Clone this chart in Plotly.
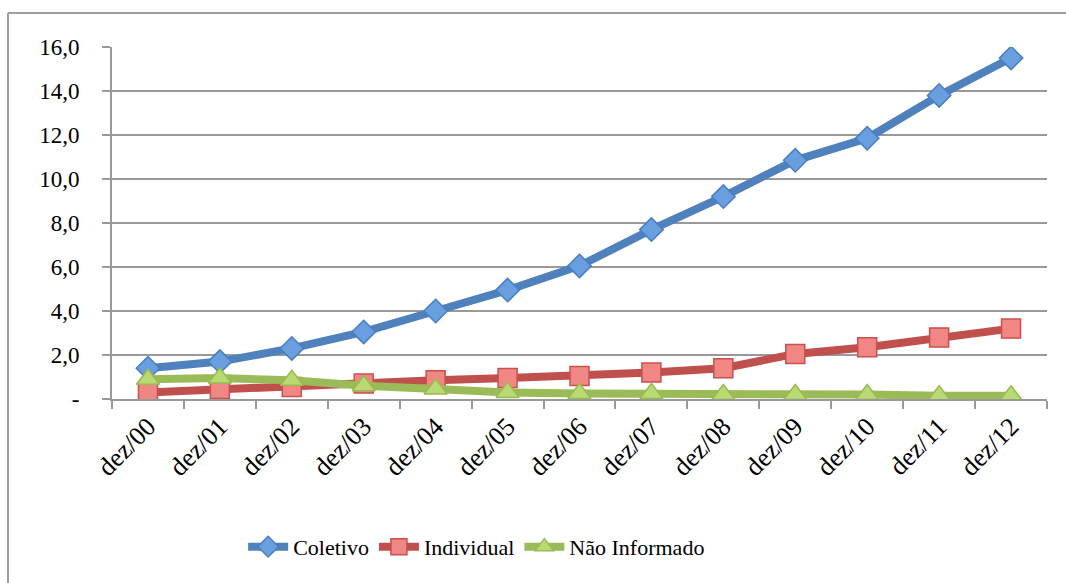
import plotly.graph_objects as go

categories = ["dez/00", "dez/01", "dez/02", "dez/03", "dez/04", "dez/05", "dez/06",
              "dez/07", "dez/08", "dez/09", "dez/10", "dez/11", "dez/12"]
coletivo = [1.4, 1.7, 2.3, 3.05, 4.0, 4.95, 6.05, 7.7, 9.2, 10.85, 11.85, 13.8, 15.5]
individual = [0.3, 0.45, 0.55, 0.7, 0.85, 0.95, 1.05, 1.2, 1.4, 2.05, 2.35, 2.8, 3.2]
nao_informado = [0.9, 0.95, 0.85, 0.6, 0.45, 0.3, 0.25, 0.25, 0.2, 0.2, 0.2, 0.15, 0.15]
y_tickvals = [0, 2, 4, 6, 8, 10, 12, 14, 16]
y_ticktext = ["-", "2,0", "4,0", "6,0", "8,0", "10,0", "12,0", "14,0", "16,0"]

FONT = "Liberation Serif"

fig = go.Figure()
series = [
    ("Coletivo", coletivo, "#4F81BD", "#6A9FDF", "#4A7EC0", "diamond", 18),
    ("Individual", individual, "#C0504D", "#F08784", "#C9504C", "square", 19),
    ("Não Informado", nao_informado, "#9BBB59", "#B9DA72", "#98BA52", "triangle-up", 20),
]
for name, vals, lc, mfill, mline, sym, sz in series:
    fig.add_trace(go.Scatter(
        x=categories, y=vals, name=name, mode="lines+markers",
        line=dict(color=lc, width=8),
        marker=dict(symbol=sym, size=sz, color=mfill, line=dict(color=mline, width=1.5)),
    ))

fig.update_layout(
    width=1066, height=583,
    margin=dict(l=112, r=19, t=47, b=184),
    paper_bgcolor="white", plot_bgcolor="white",
    font=dict(family=FONT, size=22, color="black"),
    showlegend=True,
    legend=dict(orientation="h", x=0.39, xanchor="center", y=-0.42, yanchor="middle",
                font=dict(family=FONT, size=22), itemwidth=40,
                bgcolor="rgba(0,0,0,0)"),
    xaxis=dict(
        type="category", tickangle=-45, showgrid=False,
        showline=True, linecolor="#999999", linewidth=2,
        ticks="outside", ticklen=8, tickcolor="#999999", tickwidth=2,
        tickson="boundaries", range=[-0.5, 12.5],
        tickfont=dict(family=FONT, size=26),
    ),
    yaxis=dict(
        range=[0, 16], tickvals=y_tickvals, ticktext=y_ticktext,
        showgrid=True, gridcolor="#999999", gridwidth=2,
        showline=True, linecolor="#999999", linewidth=2,
        ticks="outside", ticklen=8, tickcolor="#999999", tickwidth=2,
        ticklabelstandoff=18,
        zeroline=False, tickfont=dict(family=FONT, size=23),
    ),
    shapes=[
        dict(type="line", xref="paper", yref="paper",
             x0=(8 - 112) / 935, x1=1.05, y0=(399 - 13) / 352, y1=(399 - 13) / 352,
             line=dict(color="#A0A0A0", width=2)),
        dict(type="line", xref="paper", yref="paper",
             x0=(8 - 112) / 935, x1=(8 - 112) / 935, y0=(399 - 13) / 352, y1=-0.6,
             line=dict(color="#A0A0A0", width=2)),
    ],
)

fig.write_html("out.html",
               config={"displayModeBar": False},
               post_script="document.body.style.margin='0';document.body.style.overflow='hidden';")
